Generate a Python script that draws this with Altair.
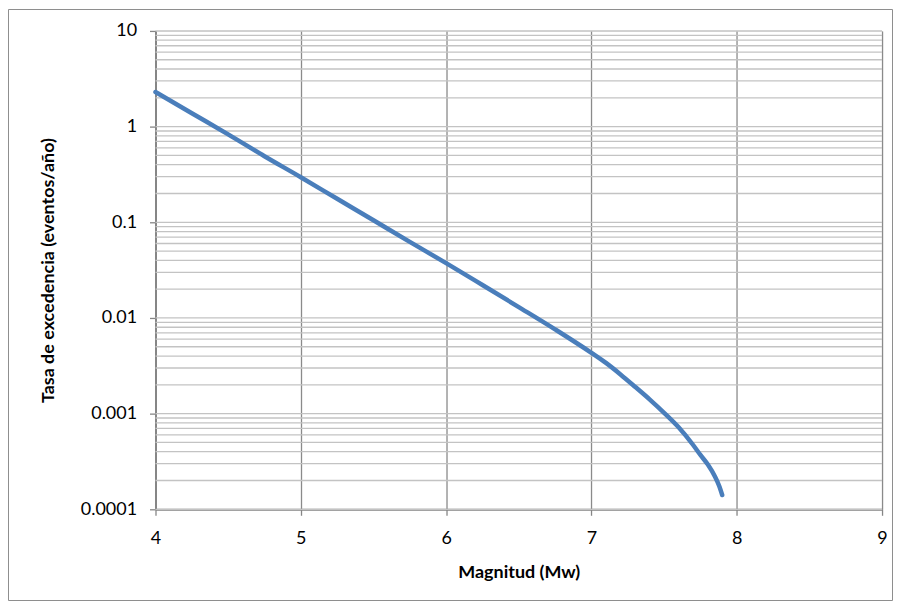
import altair as alt
import pandas as pd

# Curve
magnitud = [4.0, 4.25, 4.5, 4.75, 5.0, 5.25, 5.5, 5.75, 6.0, 6.25, 6.5, 6.75,
            7.0, 7.1, 7.2, 7.3, 7.4, 7.5, 7.6, 7.7, 7.75, 7.8, 7.85, 7.88, 7.9]
tasa = [2.3, 1.38, 0.83, 0.49, 0.296, 0.176, 0.105, 0.0624, 0.0374, 0.0221,
        0.0130, 0.0076, 0.00432, 0.00339, 0.00257, 0.00191, 0.00141, 0.00102,
        0.00072, 0.00047, 0.00037, 0.000295, 0.00022, 0.000174, 0.000141]

x_ticks = [4, 5, 6, 7, 8, 9]
y_ticks = [0.0001, 0.001, 0.01, 0.1, 1, 10]
y_minor = [m * d for d in [0.0001, 0.001, 0.01, 0.1, 1] for m in range(1, 11)]

curve = pd.DataFrame({"Magnitud": magnitud, "Tasa": tasa})
hgrid = pd.DataFrame({"g": sorted(set(round(v, 6) for v in y_minor))})

FONT = "Lato"
W, H = 729, 480

xscale = alt.Scale(domain=[4, 9], nice=False, zero=False)
yscale = alt.Scale(type="log", domain=[0.0001, 10], nice=False)

yaxis = alt.Axis(values=y_ticks, title="Tasa de excedencia (eventos/año)",
                 labelExpr="format(datum.value, '~g')", grid=False,
                 domainColor="#868686", domainWidth=2,
                 tickColor="#868686", tickSize=6, tickWidth=1.3,
                 labelFontSize=18, labelFont=FONT, labelColor="#000000",
                 labelPadding=13, labelFlush=False,
                 titleFont=FONT, titleFontSize=18, titleFontWeight="bold",
                 titleColor="#000000", titleX=-107, titleY=H / 2,
                 titleAngle=270, titleAlign="center",
                 titleBaseline="middle")

grid = alt.Chart(hgrid).mark_rule(color="#c3c3c3", strokeWidth=1.3).encode(
    y=alt.Y("g:Q", scale=yscale, axis=yaxis)
)

line = alt.Chart(curve).mark_line(
    color="#4a7ebb", strokeWidth=4.5, strokeCap="round", strokeJoin="round",
    interpolate="monotone"
).encode(
    x=alt.X("Magnitud:Q", scale=xscale,
            axis=alt.Axis(values=x_ticks, title="Magnitud (Mw)", grid=True,
                          gridColor="#8a8a8a", gridWidth=1.3,
                          domainColor="#868686", domainWidth=2,
                          tickColor="#868686", tickSize=6, tickWidth=1.3,
                          labelFontSize=18, labelFont=FONT, labelColor="#000000",
                          labelPadding=14, labelFlush=False,
                          titleFont=FONT, titleFontSize=18, titleFontWeight="bold",
                          titleColor="#000000", titleY=63, titleBaseline="middle")),
    y=alt.Y("Tasa:Q", scale=yscale, axis=yaxis),
)

border = alt.Chart(pd.DataFrame({"a": [0]})).mark_rect(
    fill="transparent", stroke="#8e8e8e", strokeWidth=1
).encode(
    x=alt.value(-147.5), x2=alt.value(739.5),
    y=alt.value(-21.5), y2=alt.value(571.5)
)

chart = alt.layer(grid, line, border).properties(
    width=W, height=H,
    autosize=alt.AutoSizeParams(type="none"),
    padding={"left": 148, "top": 22, "right": 12, "bottom": 93},
).configure_view(stroke=None).configure(background="white")

chart.save("out.html", embed_options={"renderer": "svg", "actions": False})
